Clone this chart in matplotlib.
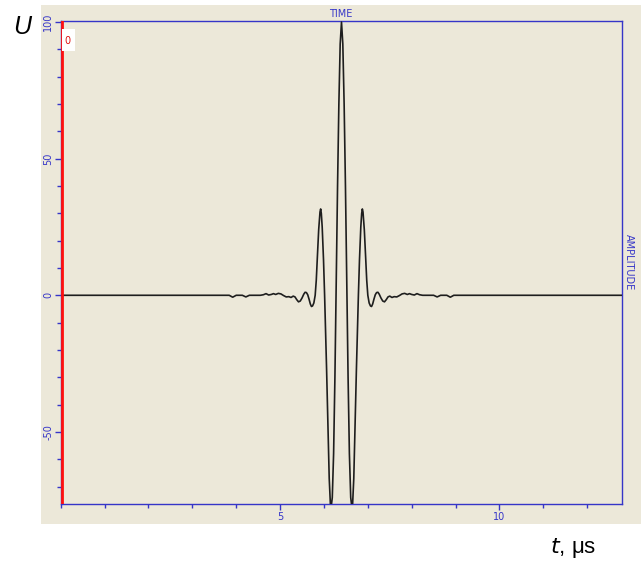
import matplotlib
matplotlib.use("Agg")
import matplotlib.pyplot as plt
from matplotlib.patches import Rectangle

plt.rcParams["axes.unicode_minus"] = False

# ---- data ----
t_us = [0.0, 3.84, 3.92, 4.00, 4.14, 4.22, 4.30, 4.55, 4.62, 4.68, 4.74, 4.80,
        4.85, 4.90, 4.96, 5.02, 5.08, 5.14, 5.20, 5.25, 5.30, 5.34, 5.38, 5.42,
        5.46, 5.50, 5.54, 5.57, 5.60, 5.63, 5.66, 5.69, 5.715, 5.74, 5.77, 5.80,
        5.825, 5.85, 5.88, 5.91, 5.925, 5.94, 5.96, 5.99, 6.015, 6.04, 6.06,
        6.09, 6.12, 6.154, 6.19, 6.22, 6.25, 6.28, 6.31, 6.34, 6.37, 6.40,
        6.43, 6.46, 6.49, 6.52, 6.55, 6.58, 6.61, 6.646, 6.68, 6.71, 6.74,
        6.76, 6.785, 6.81, 6.84, 6.86, 6.875, 6.89, 6.92, 6.95, 6.975, 7.00,
        7.03, 7.06, 7.085, 7.11, 7.14, 7.17, 7.20, 7.23, 7.26, 7.30, 7.34,
        7.38, 7.42, 7.46, 7.50, 7.55, 7.60, 7.66, 7.72, 7.78, 7.84, 7.90,
        7.95, 8.00, 8.06, 8.12, 8.18, 8.25, 8.50, 8.58, 8.66, 8.80, 8.88,
        8.96, 12.8]
u_amp = [0.0, 0.0, -0.7, 0.0, 0.0, -0.6, 0.0, 0.0, 0.2, 0.6, 0.1, 0.3,
         0.6, 0.3, 0.7, 0.5, -0.1, -0.6, -0.5, -0.8, -0.3, -0.6, -1.6, -2.4,
         -2.1, -1.0, 0.4, 1.1, 1.0, 0.2, -1.4, -3.2, -4.1, -3.9, -2.8, 0.0,
         5.5, 14.0, 24.0, 30.5, 31.6, 30.0, 25.0, 13.0, 0.0, -15.0, -27.0,
         -47.0, -67.0, -79.0, -74.0, -58.0, -30.0, 5.0, 40.0, 70.0, 92.0, 100.0,
         92.0, 70.0, 40.0, 5.0, -30.0, -58.0, -74.0, -79.0, -67.0, -47.0, -27.0,
         -15.0, 0.0, 13.0, 25.0, 30.0, 31.6, 30.5, 24.0, 14.0, 5.5, 0.0,
         -2.8, -3.9, -4.1, -3.2, -1.4, 0.2, 1.0, 1.1, 0.4, -1.0, -2.1,
         -2.4, -1.6, -0.6, -0.3, -0.8, -0.5, -0.6, -0.1, 0.5, 0.7, 0.3,
         0.6, 0.3, 0.1, 0.6, 0.2, 0.0, 0.0, -0.6, 0.0, 0.0, -0.7,
         0.0, 0.0]

x_major = [5, 10]
x_minor = list(range(0, 13))
y_major = [-50, 0, 50, 100]
y_minor = list(range(-70, 101, 10))
x_range = (0.0, 12.8)
y_range = (-76.5, 100.5)

blue = "#3535c8"
panel = "#ece8d9"

fig = plt.figure(figsize=(6.41, 5.62), dpi=100)
fig.patch.set_facecolor("white")
fig.patches.append(Rectangle((40.5 / 641, 1 - 524 / 562), 1 - 40.5 / 641,
                             (524 - 4.5) / 562, transform=fig.transFigure,
                             facecolor=panel, edgecolor="none", zorder=-5))

ax = fig.add_axes([60.7 / 641, 1 - 504.3 / 562, (622.3 - 60.7) / 641,
                   (504.3 - 20.7) / 562])
ax.set_zorder(2)
ax.set_facecolor(panel)
ax.plot(t_us, u_amp, color="#1e1e1e", lw=1.2, zorder=3)
ax.axvline(0.03, color="#ff1010", lw=2.0, zorder=4)
ax.set_xlim(*x_range)
ax.set_ylim(*y_range)

for s in ax.spines.values():
    s.set_color(blue)
    s.set_linewidth(1.0)

ax.set_xticks(x_major)
ax.set_xticks(x_minor, minor=True)
ax.set_yticks(y_major)
ax.set_yticks(y_minor, minor=True)
ax.tick_params(axis="both", which="major", direction="out", length=4,
               width=1, color=blue, labelcolor=blue, labelsize=7, pad=1.5)
ax.tick_params(axis="both", which="minor", direction="out", length=3,
               width=1, color=blue)
for lab in ax.get_yticklabels():
    lab.set_rotation(90)
    lab.set_va("center")

# small red marker label with white box
ax.add_patch(Rectangle((0.003, 0.937), 0.022, 0.045, transform=ax.transAxes,
                       facecolor="white", edgecolor="none", zorder=5))
ax.text(0.0125, 0.957, "0", transform=ax.transAxes, color="#e01010",
        fontsize=7, ha="center", va="center", zorder=6)

fig.text(341 / 641, 1 - 14 / 562, "TIME", color=blue, fontsize=7,
         ha="center", va="center")
fig.text(629 / 641, 1 - 262 / 562, "AMPLITUDE", color=blue, fontsize=7,
         ha="center", va="center", rotation=270)

fig.text(22 / 641, 1 - 27 / 562, "U", fontsize=18, style="italic",
         family="Liberation Sans", ha="center", va="center")
fig.text(596 / 641, 1 - 548 / 562, r"$\it{t}$, μs", fontsize=16,
         family="Liberation Sans", ha="right", va="center")

fig.savefig("out.png", dpi=100, facecolor="white")
